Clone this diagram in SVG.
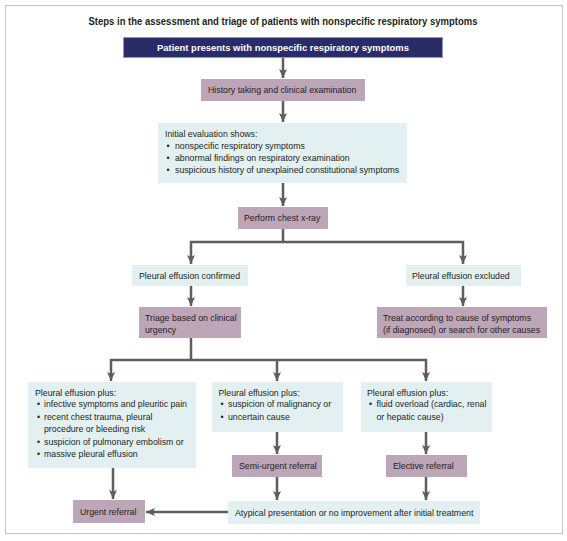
<svg xmlns="http://www.w3.org/2000/svg" width="567" height="541" viewBox="0 0 567 541">
<style>
  text { font-family: "Liberation Sans", Arial, sans-serif; font-size: 8.75px; fill: #231f20; }
  .title { font-size: 10px; font-weight: bold; }
  .hdr { font-size: 9px; font-weight: bold; fill: #ffffff; }
  .navy { fill: #2a2c68; stroke: #9299bd; stroke-width: 1; }
  .mauve { fill: #bea6b9; }
  .blue { fill: #e3f0f2; }
  .conn { fill: none; stroke: #5e5e5e; stroke-width: 2.5; }
</style>
<defs>
  <marker id="ah" markerUnits="userSpaceOnUse" markerWidth="10" markerHeight="10" refX="9" refY="5" orient="auto-start-reverse">
    <path d="M0,1 L9,5 L0,9 L2,5 z" fill="#5e5e5e"/>
  </marker>
</defs>
<rect x="5.5" y="5.5" width="557" height="528" fill="#ffffff" stroke="#c4c4c4" stroke-width="1"/>
<text class="title" x="283" y="25" text-anchor="middle" textLength="389" lengthAdjust="spacingAndGlyphs">Steps in the assessment and triage of patients with nonspecific respiratory symptoms</text>

<g id="connectors">
  <line class="conn" x1="283" y1="57" x2="283" y2="78" marker-end="url(#ah)"/>
  <line class="conn" x1="283" y1="101" x2="283" y2="122" marker-end="url(#ah)"/>
  <line class="conn" x1="283" y1="183" x2="283" y2="206" marker-end="url(#ah)"/>
  <polyline class="conn" points="283,229 283,242"/>
  <polyline class="conn" points="191,264 191,242 463,242 463,264" marker-start="url(#ah)" marker-end="url(#ah)"/>
  <line class="conn" x1="191" y1="286" x2="191" y2="306" marker-end="url(#ah)"/>
  <line class="conn" x1="463" y1="286" x2="463" y2="306" marker-end="url(#ah)"/>
  <polyline class="conn" points="191,338 191,360"/>
  <polyline class="conn" points="111,381 111,360 426,360 426,381" marker-start="url(#ah)" marker-end="url(#ah)"/>
  <line class="conn" x1="277" y1="360" x2="277" y2="381" marker-end="url(#ah)"/>
  <line class="conn" x1="113" y1="468" x2="113" y2="499" marker-end="url(#ah)"/>
  <line class="conn" x1="277" y1="432" x2="277" y2="454" marker-end="url(#ah)"/>
  <line class="conn" x1="426" y1="432" x2="426" y2="454" marker-end="url(#ah)"/>
  <line class="conn" x1="277" y1="477" x2="277" y2="500" marker-end="url(#ah)"/>
  <line class="conn" x1="426" y1="477" x2="426" y2="500" marker-end="url(#ah)"/>
  <line class="conn" x1="228" y1="512" x2="146" y2="512" marker-end="url(#ah)"/>
</g>

<g id="n-start">
  <rect class="navy" x="123.5" y="37.5" width="319" height="20"/>
  <text class="hdr" x="283" y="51" text-anchor="middle" textLength="252" lengthAdjust="spacingAndGlyphs">Patient presents with nonspecific respiratory symptoms</text>
</g>
<g id="n-history">
  <rect class="mauve" x="201" y="79" width="164" height="22"/>
  <text x="208" y="93">History taking and clinical examination</text>
</g>
<g id="n-initial">
  <rect class="blue" x="158" y="123" width="249" height="60"/>
  <text x="165" y="136.5">Initial evaluation shows:</text>
  <text x="166.5" y="148.5">•</text><text x="175" y="148.5">nonspecific respiratory symptoms</text>
  <text x="166.5" y="160.8">•</text><text x="175" y="160.8">abnormal findings on respiratory examination</text>
  <text x="166.5" y="173">•</text><text x="175" y="173">suspicious history of unexplained constitutional symptoms</text>
</g>
<g id="n-xray">
  <rect class="mauve" x="238" y="207" width="90" height="22"/>
  <text x="244" y="221">Perform chest x-ray</text>
</g>
<g id="n-confirmed">
  <rect class="blue" x="132" y="265" width="116" height="21"/>
  <text x="139" y="278.5">Pleural effusion confirmed</text>
</g>
<g id="n-excluded">
  <rect class="blue" x="406" y="265" width="115" height="21"/>
  <text x="412" y="278.5">Pleural effusion excluded</text>
</g>
<g id="n-triage">
  <rect class="mauve" x="139" y="307" width="102" height="31"/>
  <text x="145" y="321">Triage based on clinical</text>
  <text x="145" y="333">urgency</text>
</g>
<g id="n-treat">
  <rect class="mauve" x="377" y="307" width="170" height="31"/>
  <text x="383" y="321">Treat according to cause of symptoms</text>
  <text x="383" y="333">(if diagnosed) or search for other causes</text>
</g>
<g id="n-left">
  <rect class="blue" x="28" y="382" width="168" height="86"/>
  <text x="35" y="395.5">Pleural effusion plus:</text>
  <text x="37" y="407">•</text><text x="44" y="407">infective symptoms and pleuritic pain</text>
  <text x="37" y="419.5">•</text><text x="44" y="419.5">recent chest trauma, pleural</text>
  <text x="44" y="432">procedure or bleeding risk</text>
  <text x="37" y="444.5">•</text><text x="44" y="444.5">suspicion of pulmonary embolism or</text>
  <text x="37" y="457">•</text><text x="44" y="457">massive pleural effusion</text>
</g>
<g id="n-middle">
  <rect class="blue" x="212" y="382" width="131" height="50"/>
  <text x="218.5" y="395.5">Pleural effusion plus:</text>
  <text x="220.5" y="407">•</text><text x="228" y="407">suspicion of malignancy or</text>
  <text x="220.5" y="419.5">•</text><text x="228" y="419.5">uncertain cause</text>
</g>
<g id="n-right">
  <rect class="blue" x="361" y="382" width="131" height="50"/>
  <text x="367" y="395.5">Pleural effusion plus:</text>
  <text x="369" y="407">•</text><text x="376.5" y="407">fluid overload (cardiac, renal</text>
  <text x="376.5" y="419.5">or hepatic cause)</text>
</g>
<g id="n-semi">
  <rect class="mauve" x="232" y="455" width="90" height="22"/>
  <text x="239" y="469">Semi-urgent referral</text>
</g>
<g id="n-elective">
  <rect class="mauve" x="386" y="455" width="81" height="22"/>
  <text x="393" y="469">Elective referral</text>
</g>
<g id="n-atypical">
  <rect class="blue" x="228" y="501" width="252" height="23"/>
  <text x="235" y="515.5">Atypical presentation or no improvement after initial treatment</text>
</g>
<g id="n-urgent">
  <rect class="mauve" x="73" y="500" width="72" height="23"/>
  <text x="80" y="515">Urgent referral</text>
</g>
</svg>
